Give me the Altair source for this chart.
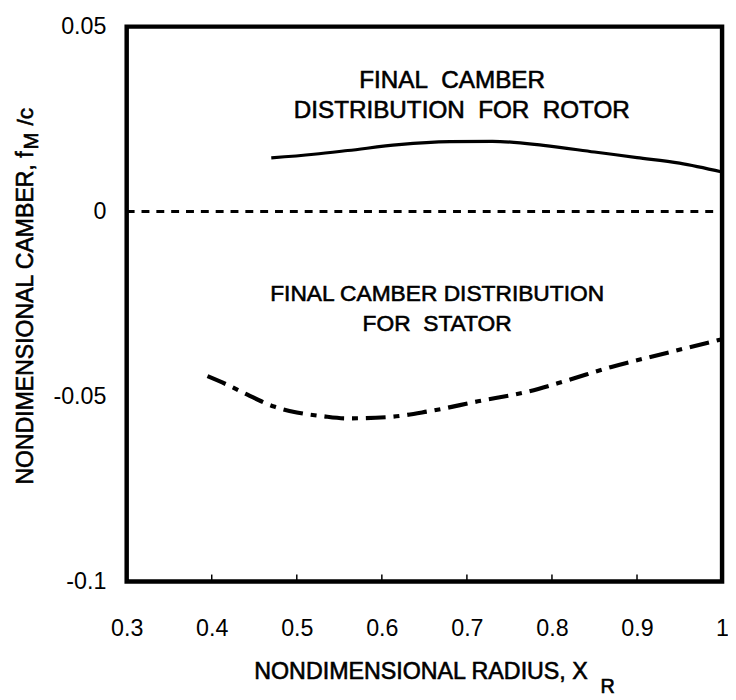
import altair as alt
import pandas as pd

FONT = "Liberation Sans"
WEIGHT = "normal"
THICK = 0.6  # slight outline so the regular glyphs look as heavy as the scanned print

# ---- data ----
rotor_x = [0.47, 0.52, 0.56, 0.62, 0.68, 0.73, 0.79, 0.85, 0.90, 0.95, 1.0]
rotor_y = [0.0145, 0.0155, 0.0165, 0.0181, 0.0189, 0.0190, 0.0179, 0.0161, 0.0146, 0.0131, 0.0107]

stator_x = [0.395, 0.42, 0.442, 0.473, 0.50, 0.53, 0.558, 0.605, 0.655, 0.713, 0.771, 0.817, 0.87, 0.93, 1.0]
stator_y = [-0.0445, -0.047, -0.0495, -0.0527, -0.0543, -0.0553, -0.0559, -0.0556, -0.054,
            -0.0513, -0.0487, -0.0457, -0.042, -0.0385, -0.0345]

zero_x = [0.3, 1.0]
zero_y = [0.0, 0.0]

x_ticks = [0.3, 0.4, 0.5, 0.6, 0.7, 0.8, 0.9, 1.0]
y_ticks = [-0.1, -0.05, 0.0, 0.05]
inner_ticks = [0.4, 0.5, 0.6, 0.7, 0.8, 0.9]

rotor_text = ["FINAL\u00a0\u00a0CAMBER", "DISTRIBUTION\u00a0\u00a0FOR\u00a0\u00a0ROTOR"]
rotor_text_x = [0.6826, 0.694]
rotor_text_y = [0.0353, 0.0273]

stator_text = ["FINAL CAMBER DISTRIBUTION", "FOR\u00a0\u00a0STATOR"]
stator_text_x = [0.665, 0.665]
stator_text_y = [-0.0222, -0.0303]

W, H = 602, 561

xs = alt.Scale(domain=[0.3, 1.0], nice=False, zero=False)
ys = alt.Scale(domain=[-0.1, 0.05], nice=False, zero=False)

xax = alt.Axis(values=x_ticks, title=None, grid=False, domain=False, ticks=False,
               labelFontSize=23.5, labelFont=FONT, labelFontWeight=WEIGHT, labelColor="black",
               labelPadding=36, labelFlush=False, labelOverlap=False,
               labelExpr="'' + datum.value")
yax = alt.Axis(values=y_ticks, title=None, grid=False, domain=False, ticks=False,
               labelFontSize=23.5, labelFont=FONT, labelFontWeight=WEIGHT, labelColor="black",
               labelPadding=21, labelFlush=False, labelOverlap=False,
               labelExpr="'' + datum.value")

zero_df = pd.DataFrame({"x": zero_x, "y": zero_y})
rotor_df = pd.DataFrame({"x": rotor_x, "y": rotor_y})
stator_df = pd.DataFrame({"x": stator_x, "y": stator_y})
tick_df = pd.DataFrame({"x": inner_ticks, "y": [-0.1] * len(inner_ticks)})
rt_df = pd.DataFrame({"t": rotor_text, "x": rotor_text_x, "y": rotor_text_y})
st_df = pd.DataFrame({"t": stator_text, "x": stator_text_x, "y": stator_text_y})

base_x = alt.X("x:Q", scale=xs, axis=xax)
base_y = alt.Y("y:Q", scale=ys, axis=yax)

zero = alt.Chart(zero_df).mark_line(color="black", strokeWidth=3, strokeDash=[8, 7]).encode(
    x=base_x, y=base_y)
rotor = alt.Chart(rotor_df).mark_line(color="black", strokeWidth=3.2, interpolate="monotone").encode(
    x=alt.X("x:Q", scale=xs), y=alt.Y("y:Q", scale=ys))
stator = alt.Chart(stator_df).mark_line(color="black", strokeWidth=4.2, interpolate="monotone",
                                         strokeDash=[20, 8, 6, 8]).encode(
    x=alt.X("x:Q", scale=xs), y=alt.Y("y:Q", scale=ys))
ticks = alt.Chart(tick_df).mark_rule(color="black", strokeWidth=1.5).encode(
    x=alt.X("x:Q", scale=xs), y=alt.Y("y:Q", scale=ys), y2=alt.value(H - 7))

rtext = alt.Chart(rt_df).mark_text(font=FONT, fontSize=24.5, fontWeight=WEIGHT, color="black",
                                    stroke="black", strokeWidth=THICK,
                                    align="center", baseline="middle").encode(
    x=alt.X("x:Q", scale=xs), y=alt.Y("y:Q", scale=ys), text="t:N")
stext = alt.Chart(st_df).mark_text(font=FONT, fontSize=23, fontWeight=WEIGHT, color="black",
                                    stroke="black", strokeWidth=THICK,
                                    align="center", baseline="middle").encode(
    x=alt.X("x:Q", scale=xs), y=alt.Y("y:Q", scale=ys), text="t:N")

title_df = pd.DataFrame({"a": [0]})


def label(txt, px, py, size=23, angle=0):
    return alt.Chart(title_df).mark_text(text=txt, font=FONT, fontSize=size, fontWeight=WEIGHT,
                                         color="black", stroke="black", strokeWidth=THICK,
                                         align="left", baseline="alphabetic",
                                         angle=angle).encode(
        x=alt.value(px), y=alt.value(py))


xt_main = label("NONDIMENSIONAL RADIUS, X", 129, 660, size=23.5)
xt_sub = label("R", 479, 674, size=20)
yt_main = label("NONDIMENSIONAL CAMBER, f", -95, 463, size=23.3, angle=270)
yt_sub = label("M", -90, 124, size=20, angle=270)
yt_end = label("/c", -95, 100, angle=270)

chart = alt.layer(zero, rotor, stator, ticks, rtext, stext,
                  xt_main, xt_sub, yt_main, yt_sub, yt_end).properties(
    width=W, height=H,
    background="white",
    autosize=alt.AutoSizeParams(type="none"),
    padding={"left": 120, "top": 15, "right": 6, "bottom": 116},
).configure_view(stroke="black", strokeWidth=4.5)

chart.save("out.html", embed_options={"renderer": "svg", "actions": False})
